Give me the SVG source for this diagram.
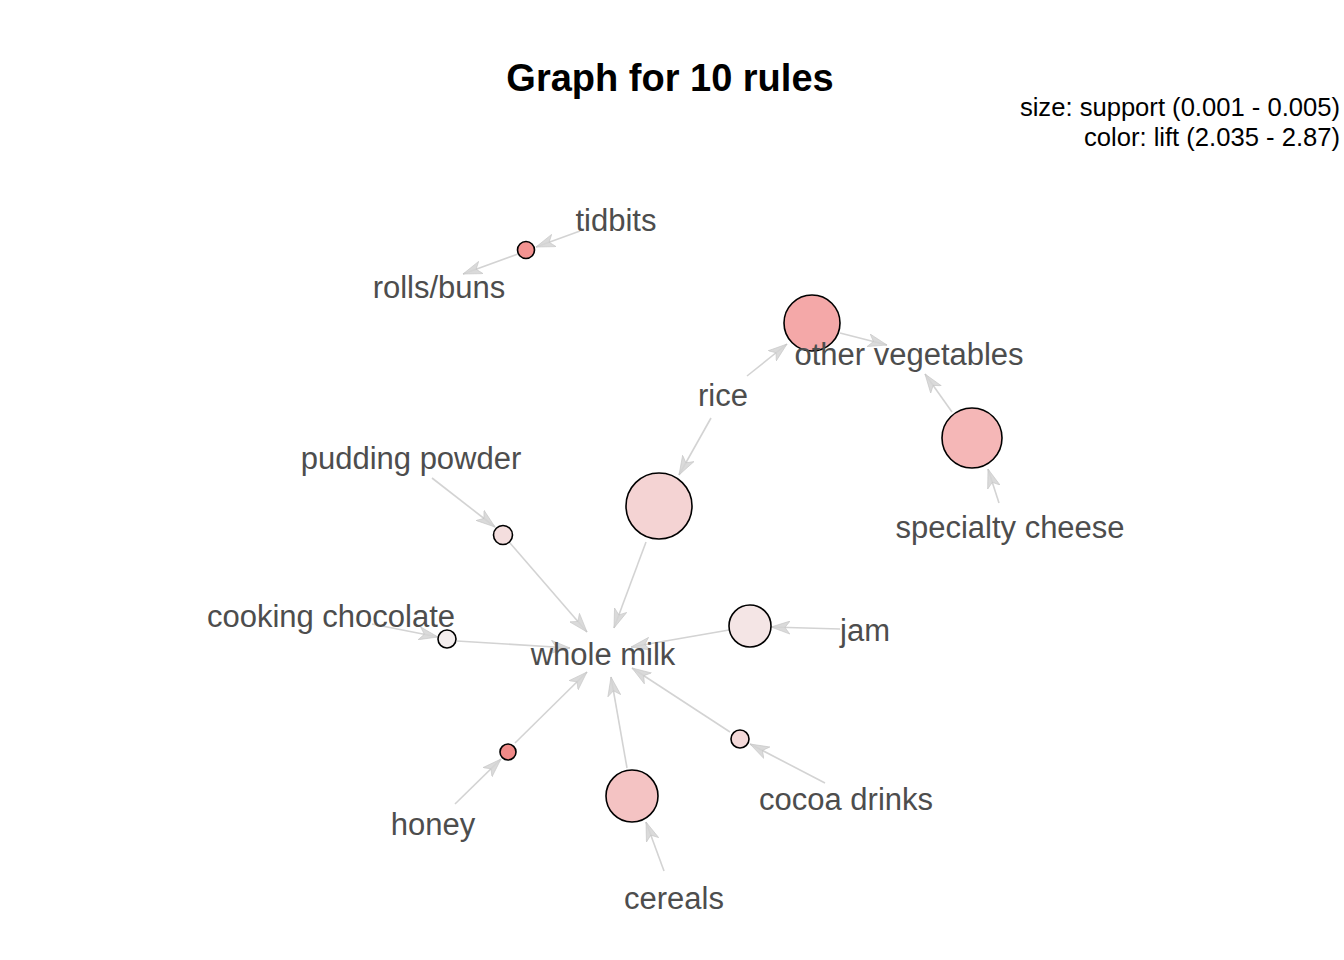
<svg xmlns="http://www.w3.org/2000/svg" width="1344" height="960" viewBox="0 0 1344 960">
<defs>
<style>
.edge{stroke:#d3d3d3;stroke-width:1.6;fill:none;marker-end:url(#arr)}
.rule{stroke:#000;stroke-width:1.6}
.lbl{font-family:"Liberation Sans",Arial,sans-serif;font-size:31px;fill:#4d4d4d;text-anchor:middle}
.title{font-family:"Liberation Sans",Arial,sans-serif;font-size:38px;font-weight:bold;fill:#000;text-anchor:middle}
.legend{font-family:"Liberation Sans",Arial,sans-serif;font-size:25.6px;fill:#000;text-anchor:end}
</style>
<marker id="arr" markerUnits="userSpaceOnUse" markerWidth="20" markerHeight="14" viewBox="0 0 20 14" refX="19" refY="7" orient="auto">
<path d="M0,0.5 L19,7 L0,13.5 L5,7 z" fill="#d3d3d3" fill-opacity="0.85" stroke="#c4c4c4" stroke-width="0.6"/>
</marker>
</defs>
<rect width="1344" height="960" fill="#fff"/>
<text class="title" x="670" y="91">Graph for 10 rules</text>
<text class="legend" x="1340" y="116">size: support (0.001 - 0.005)</text>
<text class="legend" x="1340" y="146">color: lift (2.035 - 2.87)</text>
<g id="connectors">
<line class="edge" x1="580" y1="231" x2="536" y2="247"/>
<line class="edge" x1="518" y1="254" x2="463" y2="274"/>
<line class="edge" x1="747" y1="376" x2="787" y2="344"/>
<line class="edge" x1="840" y1="333" x2="887" y2="345"/>
<line class="edge" x1="999" y1="503" x2="988" y2="469"/>
<line class="edge" x1="952" y1="412" x2="925" y2="374"/>
<line class="edge" x1="711" y1="418" x2="679" y2="475"/>
<line class="edge" x1="646" y1="542" x2="614" y2="628"/>
<line class="edge" x1="432" y1="478" x2="495" y2="527"/>
<line class="edge" x1="510" y1="543" x2="587" y2="632"/>
<line class="edge" x1="372" y1="624" x2="438" y2="637"/>
<line class="edge" x1="457" y1="641" x2="570" y2="648"/>
<line class="edge" x1="840" y1="629" x2="771" y2="627"/>
<line class="edge" x1="729" y1="630" x2="631" y2="647"/>
<line class="edge" x1="455" y1="804" x2="501" y2="759"/>
<line class="edge" x1="515" y1="743" x2="587" y2="672"/>
<line class="edge" x1="664" y1="871" x2="646" y2="822"/>
<line class="edge" x1="627" y1="768" x2="611" y2="677"/>
<line class="edge" x1="825" y1="783" x2="750" y2="744"/>
<line class="edge" x1="730" y1="732" x2="632" y2="668"/>
</g>
<g id="rule-tidbits"><circle class="rule" cx="526" cy="250" r="8.5" fill="#f39391"/></g>
<g id="rule-other-veg"><circle class="rule" cx="812" cy="323" r="28" fill="#f4a8a8"/></g>
<g id="rule-specialty-cheese"><circle class="rule" cx="972" cy="438" r="30" fill="#f5b7b7"/></g>
<g id="rule-rice"><circle class="rule" cx="659" cy="506" r="33" fill="#f4d3d3"/></g>
<g id="rule-pudding"><circle class="rule" cx="503" cy="535" r="9.5" fill="#f4dede"/></g>
<g id="rule-cooking-chocolate"><circle class="rule" cx="447" cy="639" r="9" fill="#f4eeee"/></g>
<g id="rule-jam"><circle class="rule" cx="750" cy="626" r="21" fill="#f4e5e5"/></g>
<g id="rule-honey"><circle class="rule" cx="508" cy="752" r="8" fill="#f08a88"/></g>
<g id="rule-cereals"><circle class="rule" cx="632" cy="796" r="26" fill="#f4c3c3"/></g>
<g id="rule-cocoa"><circle class="rule" cx="740" cy="739" r="9" fill="#f4dada"/></g>
<g id="item-tidbits"><text class="lbl" x="616" y="231">tidbits</text></g>
<g id="item-rolls-buns"><text class="lbl" x="439" y="298">rolls/buns</text></g>
<g id="item-other-vegetables"><text class="lbl" x="909" y="365">other vegetables</text></g>
<g id="item-rice"><text class="lbl" x="723" y="406">rice</text></g>
<g id="item-pudding-powder"><text class="lbl" x="411" y="469">pudding powder</text></g>
<g id="item-specialty-cheese"><text class="lbl" x="1010" y="538">specialty cheese</text></g>
<g id="item-cooking-chocolate"><text class="lbl" x="331" y="627">cooking chocolate</text></g>
<g id="item-whole-milk"><text class="lbl" x="603" y="665">whole milk</text></g>
<g id="item-jam"><text class="lbl" x="865" y="641">jam</text></g>
<g id="item-honey"><text class="lbl" x="433" y="835">honey</text></g>
<g id="item-cocoa-drinks"><text class="lbl" x="846" y="810">cocoa drinks</text></g>
<g id="item-cereals"><text class="lbl" x="674" y="909">cereals</text></g>
</svg>
